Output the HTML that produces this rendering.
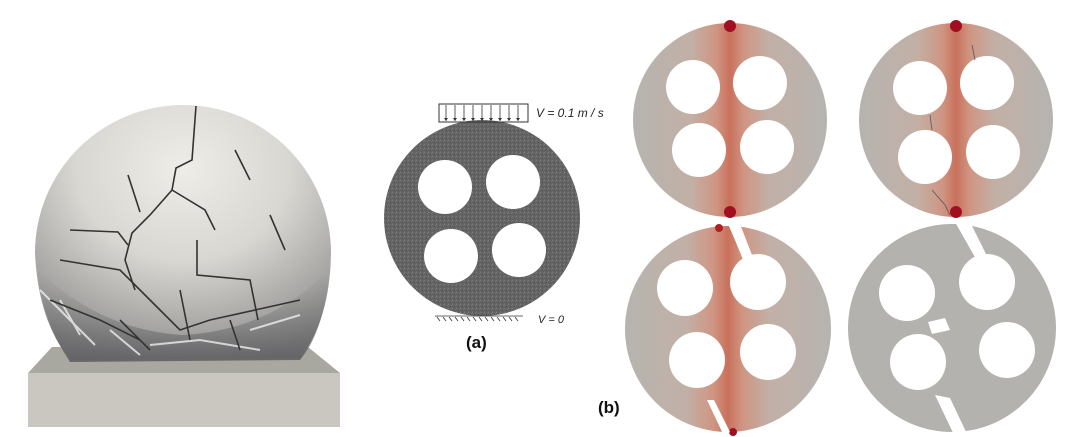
<!DOCTYPE html>
<html><head><meta charset="utf-8"><style>
html,body{margin:0;padding:0;background:#fff;}
svg{display:block}
text{font-family:"Liberation Sans",sans-serif}
</style></head><body>
<svg width="1080" height="437" viewBox="0 0 1080 437" xmlns="http://www.w3.org/2000/svg">
<defs>
<radialGradient id="sph" cx="0.5" cy="0.25" r="0.8">
<stop offset="0" stop-color="#eeede8"/><stop offset="0.45" stop-color="#d8d7d2"/><stop offset="0.8" stop-color="#a5a4a2"/><stop offset="1" stop-color="#7f7e7d"/>
</radialGradient>
<linearGradient id="low" x1="0" y1="0" x2="0" y2="1">
<stop offset="0" stop-color="#8a8a8a" stop-opacity="0"/><stop offset="1" stop-color="#5f5f62" stop-opacity="0.9"/>
</linearGradient>
<linearGradient id="st" x1="0" x2="1" y1="0" y2="0">
<stop offset="0" stop-color="#b6b4b0"/><stop offset="0.3" stop-color="#c2b0a6"/><stop offset="0.43" stop-color="#cf9582"/><stop offset="0.5" stop-color="#c9715c"/><stop offset="0.57" stop-color="#cf9582"/><stop offset="0.7" stop-color="#c2b0a6"/><stop offset="1" stop-color="#b6b4b0"/>
</linearGradient>
<pattern id="noise" width="4" height="4" patternUnits="userSpaceOnUse">
<rect width="4" height="4" fill="#646464"/><rect width="1" height="1" fill="#7d7d7d"/><rect x="2" y="2" width="1" height="1" fill="#505050"/><rect x="3" y="1" width="1" height="1" fill="#727272"/>
</pattern>
</defs>
<!-- Left sphere -->
<polygon points="52,347 308,347 340,373 28,373" fill="#a9a8a0"/>
<rect x="28" y="373" width="312" height="54" fill="#c9c7c0"/>
<path d="M35,253 A148,148 0 1 1 331,253 Q330,320 300,358 L70,360 Q38,320 35,253Z" fill="url(#sph)"/>
<path d="M38,270 Q100,330 183,335 Q270,330 329,270 Q325,330 300,360 L70,362 Q42,320 38,270Z" fill="url(#low)"/>
<g stroke="#eee" stroke-width="2" fill="none" opacity="0.8">
<path d="M40,290 L70,320 L95,345"/><path d="M60,300 L80,335"/><path d="M150,345 L200,340 L260,350"/><path d="M250,330 L300,315"/><path d="M110,330 L140,355"/>
</g>
<g stroke="#333" stroke-width="1.6" fill="none">
<path d="M196,106 L192,160 L176,168 L172,190 L150,215 L132,233 L125,260 L135,290"/>
<path d="M172,190 L205,210 L215,230"/><path d="M128,175 L140,212"/><path d="M70,230 L118,232 L128,245"/>
<path d="M197,240 L197,275 L250,280 L258,320"/><path d="M235,150 L250,180"/><path d="M270,215 L285,250"/>
<path d="M60,260 L120,270 L150,300 L180,330 L210,320 L255,310 L300,300"/><path d="M50,300 L100,320 L140,340"/>
<path d="M180,290 L190,340"/><path d="M120,320 L150,350"/><path d="M230,320 L240,350"/>
</g>
<!-- Middle (a) -->
<circle cx="482" cy="218" r="98" fill="url(#noise)"/>
<g fill="#fff"><circle cx="445" cy="187" r="27"/><circle cx="513" cy="182" r="27"/><circle cx="451" cy="256" r="27"/><circle cx="519" cy="250" r="27"/></g>
<rect x="439" y="104" width="89" height="18" fill="none" stroke="#333" stroke-width="1"/>
<g stroke="#333" stroke-width="0.8">
<line x1="446" y1="105" x2="446" y2="121"/><line x1="455" y1="105" x2="455" y2="121"/><line x1="464" y1="105" x2="464" y2="121"/><line x1="473" y1="105" x2="473" y2="121"/><line x1="482" y1="105" x2="482" y2="121"/><line x1="491" y1="105" x2="491" y2="121"/><line x1="500" y1="105" x2="500" y2="121"/><line x1="509" y1="105" x2="509" y2="121"/><line x1="518" y1="105" x2="518" y2="121"/>
<line x1="435" y1="316" x2="523" y2="316"/>
<path d="M437,317 l3,4 M443,317 l3,4 M449,317 l3,4 M455,317 l3,4 M461,317 l3,4 M467,317 l3,4 M473,317 l3,4 M479,317 l3,4 M485,317 l3,4 M491,317 l3,4 M497,317 l3,4 M503,317 l3,4 M509,317 l3,4 M515,317 l3,4"/>
</g>
<g fill="#333"><path d="M444,118 l2,3 l2,-3Z M453,118 l2,3 l2,-3Z M462,118 l2,3 l2,-3Z M471,118 l2,3 l2,-3Z M480,118 l2,3 l2,-3Z M489,118 l2,3 l2,-3Z M498,118 l2,3 l2,-3Z M507,118 l2,3 l2,-3Z M516,118 l2,3 l2,-3Z"/></g>
<text x="536" y="117" font-size="12" font-style="italic" fill="#222">V = 0.1  m / s</text>
<text x="538" y="323" font-size="11" font-style="italic" fill="#222">V = 0</text>
<text x="466" y="348" font-size="17" font-weight="bold" fill="#111">(a)</text>
<text x="598" y="413" font-size="17" font-weight="bold" fill="#111">(b)</text>
<!-- (b) disks -->
<circle cx="730" cy="120" r="97" fill="url(#st)"/>
<circle cx="730" cy="26" r="6" fill="#a01020"/><circle cx="730" cy="212" r="6" fill="#a01020"/>
<g fill="#fff"><circle cx="693" cy="87" r="27"/><circle cx="760" cy="83" r="27"/><circle cx="699" cy="150" r="27"/><circle cx="767" cy="147" r="27"/></g>
<circle cx="956" cy="120" r="97" fill="url(#st)"/>
<circle cx="956" cy="26" r="6" fill="#a01020"/><circle cx="956" cy="212" r="6" fill="#a01020"/>
<g fill="#fff"><circle cx="920" cy="88" r="27"/><circle cx="987" cy="83" r="27"/><circle cx="925" cy="157" r="27"/><circle cx="993" cy="152" r="27"/></g>
<path d="M932,190 L945,205 L950,215 M972,45 L975,60 M930,115 L932,130" stroke="#556" stroke-width="0.8" fill="none"/>
<circle cx="728" cy="329" r="103" fill="url(#st)"/>
<circle cx="719" cy="228" r="4" fill="#b02020"/>
<circle cx="733" cy="432" r="4" fill="#a01020"/>
<g fill="#fff"><circle cx="685" cy="288" r="28"/><circle cx="758" cy="282" r="28"/><circle cx="697" cy="360" r="28"/><circle cx="768" cy="352" r="28"/></g>
<path d="M728,224 L740,224 L752,255 L744,262 L735,240Z M707,400 L714,400 L730,432 L724,436Z" fill="#fff"/>
<circle cx="952" cy="328" r="104" fill="#b4b2ae"/>
<g fill="#fff"><circle cx="907" cy="293" r="28"/><circle cx="987" cy="282" r="28"/><circle cx="918" cy="362" r="28"/><circle cx="1007" cy="350" r="28"/></g>
<path d="M955,222 L970,222 L990,262 L980,266Z M935,395 L950,398 L968,436 L955,437Z M928,322 L945,318 L950,330 L932,334Z" fill="#fff"/>
</svg>
</body></html>
